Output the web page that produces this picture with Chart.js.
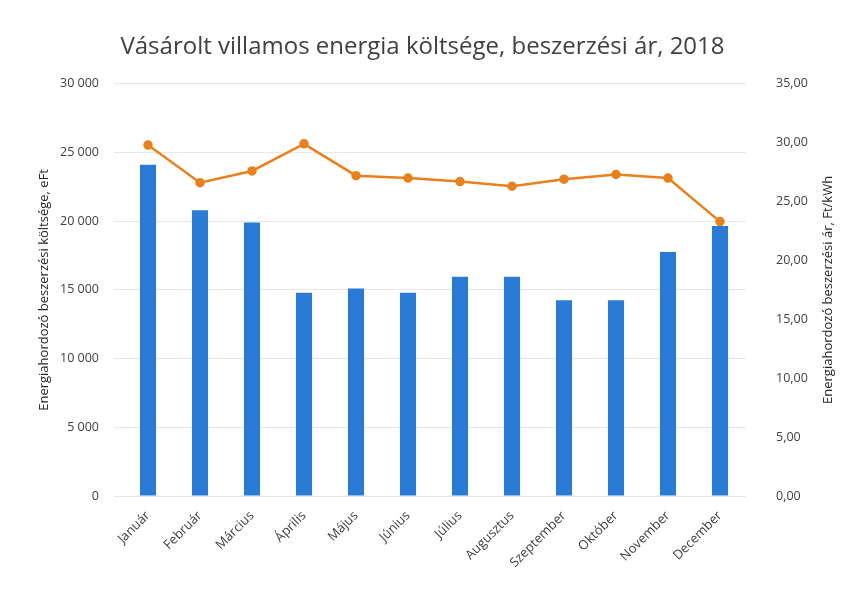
<!DOCTYPE html>
<html>
<head>
<meta charset="utf-8">
<script src="https://cdn.jsdelivr.net/npm/chart.js@4/dist/chart.umd.min.js"></script>
<style>
  body { margin: 0; background: #fff; }
  #wrap { width: 845px; height: 589px; }
</style>
</head>
<body>
<div id="wrap"><canvas id="costChart" width="845" height="589"></canvas></div>
<script>
// months
const months = ["Január", "Február", "Március", "Április", "Május", "Június",
    "Július", "Augusztus", "Szeptember", "Október", "November", "December"];

// cost, eFt (bars, left axis)
const costValues = [24100, 20800, 19900, 14800, 15100, 14800, 15950, 15950, 14250, 14250, 17750, 19650];

// price, Ft/kWh (line, right axis)
const priceValues = [29.8, 26.6, 27.6, 29.9, 27.2, 27.0, 26.7, 26.3, 26.9, 27.3, 27.0, 23.3];

const leftTicks = [0, 5000, 10000, 15000, 20000, 25000, 30000];
const rightTicks = [0, 5, 10, 15, 20, 25, 30, 35];

const rightTitle = "Energiahordozó beszerzési ár, Ft/kWh";

const fontFamily = "'Open Sans', 'Noto Sans', sans-serif";
const textColor = "#404040";

function spaceThousands(v) {
    return String(v).replace(/\B(?=(\d{3})+(?!\d))/g, " ");
}

// right axis title reads bottom-to-top like the left one
const rightTitlePlugin = {
    id: "rightTitle",
    afterDraw(chart) {
        const c = chart.ctx;
        const area = chart.chartArea;
        c.save();
        c.translate(828, (area.top + area.bottom) / 2);
        c.rotate(-Math.PI / 2);
        c.fillStyle = "#262626";
        c.font = "13px " + fontFamily;
        c.textAlign = "center";
        c.textBaseline = "middle";
        c.fillText(rightTitle, 0, 0);
        c.restore();
    }
};

const ctx = document.getElementById("costChart").getContext("2d");

new Chart(ctx, {
    data: {
        labels: months,
        datasets: [
            {
                type: "line",
                label: "Beszerzési ár",
                data: priceValues,
                yAxisID: "yRight",
                borderColor: "#e8801e",
                backgroundColor: "#e8801e",
                borderWidth: 2.5,
                pointRadius: 3.5,
                pointHoverRadius: 3.5,
                tension: 0,
                order: 0
            },
            {
                type: "bar",
                label: "Költség",
                data: costValues,
                yAxisID: "yLeft",
                backgroundColor: "#2a7bd6",
                categoryPercentage: 1,
                barPercentage: 0.31,
                order: 1
            }
        ]
    },
    plugins: [rightTitlePlugin],
    options: {
        responsive: false,
        animation: false,
        layout: { padding: 0 },
        plugins: {
            legend: { display: false },
            tooltip: { enabled: false },
            title: {
                display: true,
                text: "Vásárolt villamos energia költsége, beszerzési ár, 2018",
                color: "#404040",
                font: { family: fontFamily, size: 24, weight: "normal" },
                padding: { top: 33, bottom: 22 }
            }
        },
        scales: {
            x: {
                grid: { display: false },
                border: { display: false },
                afterFit: axis => { axis.height = 93; },
                ticks: {
                    color: textColor,
                    font: { family: fontFamily, size: 13 },
                    maxRotation: 45,
                    minRotation: 45,
                    padding: 4
                }
            },
            yLeft: {
                position: "left",
                min: 0,
                max: 30000,
                afterBuildTicks: axis => { axis.ticks = leftTicks.map(v => ({ value: v })); },
                afterFit: axis => { axis.width = 122; },
                grid: { color: "#e8e8e8", lineWidth: 1 },
                border: { display: false },
                ticks: {
                    color: textColor,
                    font: { family: fontFamily, size: 12.5 },
                    padding: 15,
                    callback: v => spaceThousands(v)
                },
                title: {
                    display: true,
                    text: "Energiahordozó beszerzési költsége, eFt",
                    color: "#262626",
                    font: { family: fontFamily, size: 13 },
                    padding: { top: 36, bottom: 4 }
                }
            },
            yRight: {
                position: "right",
                min: 0,
                max: 35,
                afterBuildTicks: axis => { axis.ticks = rightTicks.map(v => ({ value: v })); },
                afterFit: axis => { axis.width = 99; },
                grid: { display: false },
                border: { display: false },
                ticks: {
                    color: textColor,
                    font: { family: fontFamily, size: 12.5 },
                    padding: 22,
                    callback: v => v.toFixed(2).replace(".", ",")
                }
            }
        }
    }
});
</script>
</body>
</html>
